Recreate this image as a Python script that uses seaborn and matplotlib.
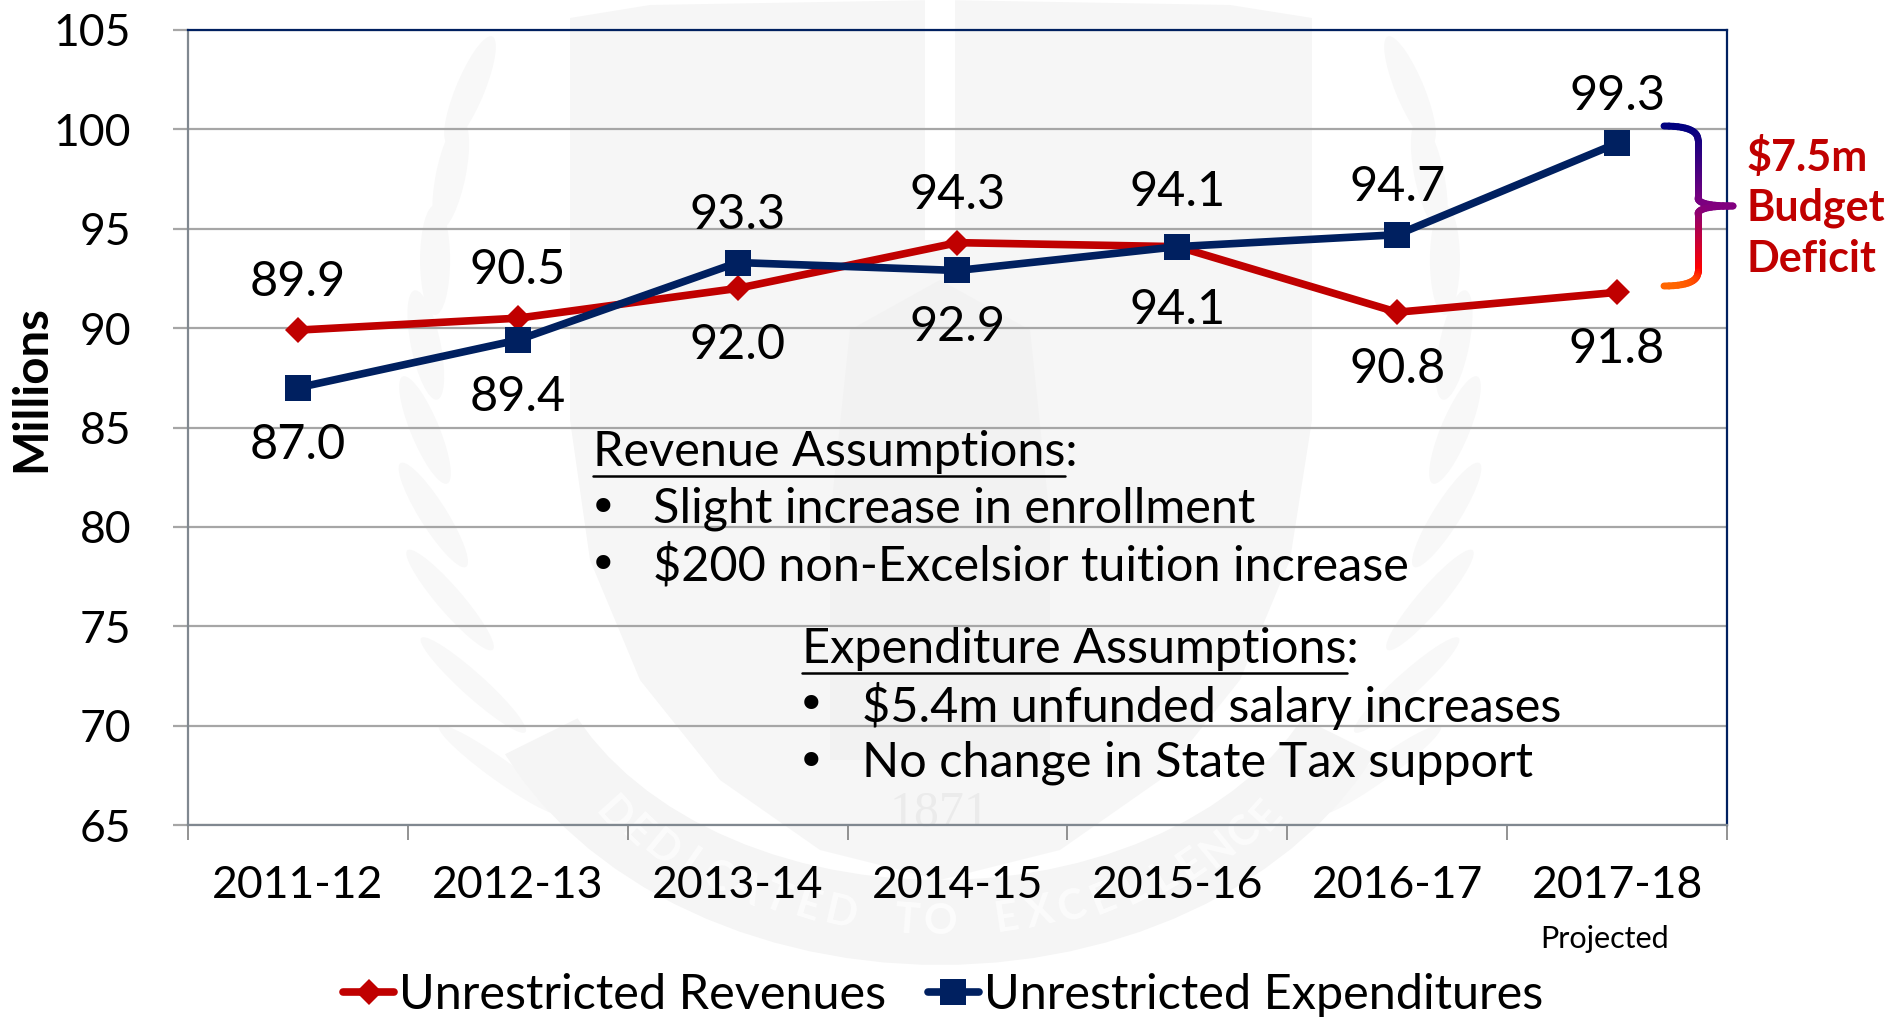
import numpy as np
import pandas as pd
import seaborn as sns
import matplotlib.pyplot as plt
from matplotlib.collections import LineCollection
from matplotlib.lines import Line2D
from matplotlib.patches import Polygon, Ellipse
from matplotlib.colors import LinearSegmentedColormap

years = ["2011-12", "2012-13", "2013-14", "2014-15", "2015-16", "2016-17", "2017-18"]
revenues = [89.9, 90.5, 92.0, 94.3, 94.1, 90.8, 91.8]
expenditures = [87.0, 89.4, 93.3, 92.9, 94.1, 94.7, 99.3]
y_ticks = [65, 70, 75, 80, 85, 90, 95, 100, 105]
rev_name = "Unrestricted Revenues"
exp_name = "Unrestricted Expenditures"
rev_note = ["Slight increase in enrollment", "$200 non-Excelsior tuition increase"]
exp_note = ["$5.4m unfunded salary increases", "No change in State Tax support"]

RED = "#C00000"
NAVY = "#002060"
W, H = 1891, 1017
FS = 35

sns.set_theme(style="white")
plt.rcParams["font.family"] = ["Lato", "DejaVu Sans"]

df = pd.DataFrame({
    "year": years * 2,
    "value": revenues + expenditures,
    "series": [rev_name] * 7 + [exp_name] * 7,
})

fig = plt.figure(figsize=(W / 100, H / 100), dpi=100)
ax = fig.add_axes([188 / W, 1 - 825 / H, (1727 - 188) / W, (825 - 30) / H])
ax.patch.set_alpha(0)


def fx(px):
    return px / W


def fy(px):
    return 1 - px / H


def wm_poly(points, color, z=-5):
    fig.add_artist(Polygon([(fx(a), fy(b)) for a, b in points], closed=True, transform=fig.transFigure,
                           fc=color, ec="none", zorder=z))


# 背景水印
wm = "#f6f6f6"
shield = [(570, 18), (650, 5), (940, 0), (1230, 5), (1312, 18), (1312, 420), (1290, 560), (1240, 680),
          (1160, 780), (1060, 850), (940, 880), (820, 850), (720, 780), (640, 680), (590, 560), (570, 420)]
wm_poly(shield, wm)
wm_poly([(925, 0), (955, 0), (955, 240), (925, 240)], "white", -4)
wm_poly([(850, 330), (940, 280), (1030, 330), (1050, 520), (1050, 760), (830, 760), (830, 520)], "#f2f2f2", -4)
theta = np.radians(np.linspace(205, 335, 30))
outer = [(940 + 480 * np.cos(t), 600 - 365 * np.sin(t)) for t in theta]
inner = [(940 + 400 * np.cos(t), 600 - 280 * np.sin(t)) for t in theta[::-1]]
wm_poly(outer + inner, "#f5f5f5", -4)
motto = "DEDICATED TO EXCELLENCE"
for k, ch in enumerate(motto):
    t = np.radians(222 + 96 * k / (len(motto) - 1))
    rot = np.degrees(t) - 270
    fig.text(fx(940 + 440 * np.cos(t)), fy(600 - 322 * np.sin(t)), ch, rotation=rot, ha="center", va="center",
             fontsize=30, color="#fcfcfc", fontweight="bold", zorder=-3)
fig.text(fx(940), fy(813), "1871", ha="center", va="center", fontsize=36, color="#ebebeb",
         family="Liberation Serif", zorder=-3)
for side in (-1, 1):
    for i in range(9):
        cx = 940 + side * (470 + 60 * np.sin(i / 8 * np.pi) - 30 * i / 8)
        cy = 90 + i * 85
        fig.add_artist(Ellipse((fx(cx), fy(cy)), 30 / W, 110 / H, angle=side * (12 - i * 6),
                               transform=fig.transFigure, fc="#f8f8f8", ec="none", zorder=-5))

sns.lineplot(data=df, x="year", y="value", hue="series", style="series",
             palette={rev_name: RED, exp_name: NAVY},
             markers={rev_name: "D", exp_name: "s"}, dashes=False, lw=5.5, ax=ax, legend=False,
             errorbar=None, sort=False)
for line, ms in zip(ax.lines, (13.5, 19)):
    line.set_markersize(ms)
    line.set_markeredgewidth(0)
    line.set_solid_capstyle("round")

ax.set_xlim(-0.5, 6.5)
ax.set_ylim(65, 105)
ax.set_xlabel("")
ax.set_ylabel("")
ax.set_yticks(y_ticks)
ax.set_xticks(np.arange(-0.5, 7, 1))
ax.set_xticklabels([])
ax.set_xticks(range(len(years)), labels=years, minor=True)
ax.tick_params(axis="x", which="major", bottom=True, length=11, width=1.2, color="#808080")
ax.tick_params(axis="x", which="minor", bottom=False, length=0, pad=29, labelsize=32, labelcolor="black")
ax.tick_params(axis="y", left=True, length=11, width=1.6, color="#a6a6a6", pad=30, labelsize=32, labelcolor="black")
ax.yaxis.grid(True, color="#a6a6a6", lw=1.6)
ax.set_axisbelow(True)
for s in ("top", "right"):
    ax.spines[s].set_color(NAVY)
    ax.spines[s].set_linewidth(1.6)
for s in ("left", "bottom"):
    ax.spines[s].set_color("#808890")
    ax.spines[s].set_linewidth(1.6)

# 数据标签
rev_off = [34.4, 34.4, -40.9, 34.4, 39.6, -40.9, -40.9]
exp_off = [-40.9, -40.9, 34.4, -40.9, -45.7, 34.4, 34.4]
for vals, offs in ((revenues, rev_off), (expenditures, exp_off)):
    for i, (v, off) in enumerate(zip(vals, offs)):
        ax.annotate(f"{v:.1f}", (i, v), xytext=(0, off), textcoords="offset points",
                    ha="center", va="center", fontsize=FS, color="black")

fig.text(fx(1605), fy(939), "Projected", ha="center", va="center", fontsize=22, color="black")
fig.text(fx(31), fy(389), "Millions", rotation=90, ha="center", va="center", fontsize=34,
         fontweight="bold", color="black")


def note(head, items, x_head, x_bul, x_txt, y_start):
    fig.text(fx(x_head), fy(y_start), head + ":", ha="left", va="center", fontsize=FS, color="black")
    probe = fig.text(fx(x_head), fy(y_start), head, ha="left", va="center", fontsize=FS, alpha=0)
    fig.canvas.draw()
    bb = probe.get_window_extent()
    probe.remove()
    fig.add_artist(Line2D([fx(x_head), fx(bb.x1)], [fy(y_start + 24)] * 2, transform=fig.transFigure,
                          color="black", lw=1.8))
    for k, item in enumerate(items):
        y = y_start + (k + 1) * 57
        fig.text(fx(x_bul), fy(y), "•", ha="center", va="center", fontsize=FS, color="black",
                 family="DejaVu Sans")
        fig.text(fx(x_txt), fy(y), item.replace("$", r"\$"), ha="left", va="center", fontsize=FS, color="black")


note("Revenue Assumptions", rev_note, 593, 603, 653, 452)
note("Expenditure Assumptions", exp_note, 802, 811, 862, 649)


# 右侧渐变大括号
def corner(p0, p1, p2, n=14):
    s = np.linspace(0, 1, n)[:, None]
    p0, p1, p2 = map(np.array, (p0, p1, p2))
    return (1 - s) ** 2 * p0 + 2 * s * (1 - s) * p1 + s ** 2 * p2


top = np.vstack([corner((1664, 126), (1698, 126), (1698, 140)),
                 np.linspace((1698, 140), (1698, 198), 30),
                 corner((1698, 198), (1698, 206), (1733, 206))])
low = np.vstack([corner((1733, 206), (1698, 206), (1698, 214)),
                 np.linspace((1698, 214), (1698, 272), 30),
                 corner((1698, 272), (1698, 286), (1664, 286))])
cmap = LinearSegmentedColormap.from_list("brace", [(0, "#000080"), (0.5, "#800080"), (0.9, "#FF0000"), (1, "#FF6600")])
for pts in (top, low):
    segs = [[(fx(a[0]), fy(a[1])), (fx(b[0]), fy(b[1]))] for a, b in zip(pts[:-1], pts[1:])]
    cols = [cmap((a[1] - 126) / 160) for a in pts[:-1]]
    fig.add_artist(LineCollection(segs, colors=cols, linewidths=5, capstyle="round", transform=fig.transFigure))

for txt, y in (("$7.5m", 157), ("Budget", 208), ("Deficit", 259)):
    fig.text(fx(1747), fy(y), txt.replace("$", r"\$"), ha="left", va="center", fontsize=31,
             fontweight="bold", color=RED)

handles = [Line2D([], [], color=RED, marker="D", ms=13.5, mew=0, lw=5.5),
           Line2D([], [], color=NAVY, marker="s", ms=19, mew=0, lw=5.5)]
fig.legend(handles, [rev_name, exp_name], ncol=2, loc="center", bbox_to_anchor=(fx(943), fy(995)),
           frameon=False, fontsize=FS, handlelength=1.05, handletextpad=0.1, columnspacing=0.85,
           labelcolor="black", borderpad=0)

plt.savefig("out.png", dpi=100)
